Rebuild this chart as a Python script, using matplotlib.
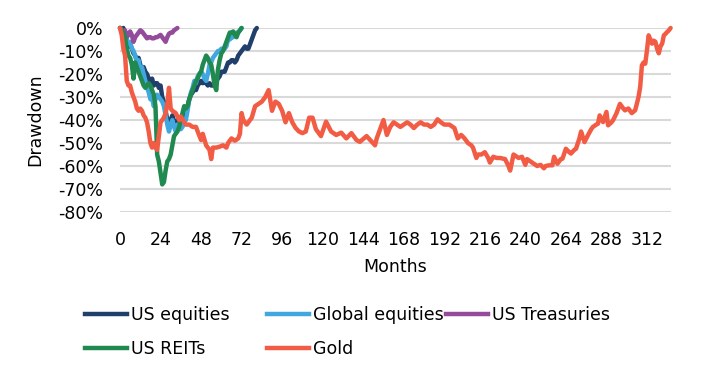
import matplotlib
matplotlib.use("Agg")
import matplotlib.pyplot as plt
from matplotlib.lines import Line2D
from matplotlib.ticker import FuncFormatter

# ---------------- data (drawdown in %, by month since peak) ----------------
us_equities = [0, -1, 0, -3, -6, -8, -7, -9, -11, -12, -14, -13, -16, -18, -17, -19, -20, -22,
               -24, -22, -25, -24, -24, -26, -25, -30, -32, -36, -40, -43, -40, -38, -41, -43,
               -40, -39, -40, -39, -37, -36, -34, -31, -29, -28, -26, -27, -25, -24, -23, -24,
               -23, -24, -25, -24, -25, -25, -24, -23, -22, -21, -19, -19, -19, -17, -15, -15,
               -14, -14, -15, -14, -12, -11, -10, -9, -8, -9, -9, -7, -5, -3, -1, 0]

global_equities = [0, -1, -3, -2, -5, -7, -6, -9, -10, -12, -15, -14, -18, -17, -20, -23, -26,
                   -28, -31, -30, -34, -31, -29, -30, -31, -32, -34, -38, -42, -45, -42, -40,
                   -43, -45, -42, -42, -44, -43, -41, -40, -36, -31, -28, -26, -23, -24, -21,
                   -20, -19, -20, -22, -23, -20, -16, -15, -13, -12, -11, -10, -10, -9, -9, -9,
                   -8, -5, -5, -4, -4, -3, -2, -2, -1, 0]

us_treasuries = [0, -1, -2, -1, -4, -3, -1.5, -3, -6, -4, -3, -2, -1, -1.5, -2.5, -3.5, -4.5,
                 -4, -4, -4.5, -4.5, -4, -4, -3.5, -3, -4, -5, -6, -4, -2.5, -2, -2, -1, -0.5, 0]

us_reits = [0, -1, -2, -4, -9, -12, -13, -16, -22, -15, -17, -19, -21, -23, -25, -26, -25, -24,
            -25, -27, -29, -34, -55, -58, -63, -68, -67, -62, -58, -57, -55, -51, -47, -46, -45,
            -43, -40, -37, -34, -35, -34, -31, -29, -27, -25, -23, -22, -20, -19, -16, -14, -12,
            -13, -15, -16, -20, -25, -27, -18, -14, -11, -10, -8, -6, -4, -2, -2, -1.5, -3, -4,
            -2, -1, 0]

gold_months = [0, 1, 2, 3, 4, 5, 6, 7, 8, 9, 10, 11, 12, 13, 14, 15, 16, 17, 18, 19, 20, 21, 22,
               23, 24, 25, 26, 27, 28, 29, 30, 31, 33, 35, 36, 38, 39, 41, 43, 45, 46, 48, 49, 51,
               53, 54, 55, 57, 59, 61, 63, 64, 66, 68, 70, 71, 72, 73, 75, 77, 78, 80, 82, 84, 86,
               88, 90, 91, 92, 94, 96, 98, 100, 102, 104, 106, 108, 110, 112, 114, 116, 119, 122,
               125, 128, 131, 134, 137, 140, 142, 146, 149, 151, 152, 154, 156, 158, 160, 162,
               164, 166, 168, 170, 172, 174, 176, 178, 180, 182, 184, 186, 188, 190, 192, 195,
               198, 200, 202, 204, 206, 208, 209, 211, 212, 214, 216, 218, 219, 221, 223, 225,
               228, 230, 231, 233, 235, 236, 238, 240, 241, 243, 245, 247, 249, 251, 252, 254,
               256, 257, 259, 261, 262, 264, 266, 267, 269, 270, 272, 273, 275, 277, 279, 280,
               282, 283, 284, 286, 288, 289, 291, 292, 294, 296, 298, 299, 301, 303, 305, 306,
               307, 308, 309, 310, 311, 312, 313, 314, 315, 316, 317, 318, 319, 320, 321, 322,
               323, 324, 325, 326]
gold = [0, -3, -9, -12, -23, -25, -25, -28, -30, -32, -35, -36, -35, -36, -38, -39, -41, -45, -50,
        -52, -50, -52, -53, -47, -41, -40, -39, -37, -33, -26, -35, -36, -37, -40, -38.5, -41, -42,
        -42, -43, -43, -45, -48.7, -46, -51, -53, -57, -52, -52, -51.6, -51, -52, -50, -48, -49,
        -48, -46, -37, -40, -42, -40, -39, -34, -33, -32, -30, -27, -36, -34, -32, -33, -36, -41,
        -37, -41, -43.5, -45, -45.7, -45, -39, -39, -44, -47, -40.7, -45, -46.5, -45.5, -48,
        -45.7, -48.7, -49.5, -47, -49.4, -51, -48, -44, -40, -46.5, -43, -41, -42, -43, -42, -41,
        -42, -43.5, -42, -41, -42, -42, -43, -42, -39.7, -41, -42, -42, -43.5, -48, -46.5, -48,
        -50, -51, -52, -56.5, -55, -55, -54, -56.5, -58.5, -56, -56.5, -56.5, -57, -60, -62, -55,
        -56, -56.5, -56, -59.5, -57, -58, -59, -60, -59.5, -61, -60, -59.7, -59.7, -56, -59, -57,
        -56.8, -52.5, -54, -54.6, -53, -52.5, -48, -45, -49.6, -46.7, -44, -43, -42, -41.6, -38,
        -40.9, -36.5, -42.3, -41, -40, -37, -33, -35, -35.8, -35, -37, -35.8, -33, -30, -25.6,
        -16.2, -15, -15.5, -9.7, -3.2, -5, -6.8, -5.5, -6, -9, -11, -8, -6.8, -3.2, -2.5, -1.7,
        -1, 0]

series_names = ["US equities", "Global equities", "US Treasuries", "US REITs", "Gold"]
series_colors = ["#203F6B", "#41A8DF", "#954B9B", "#20894F", "#F25C45"]
x_ticks = list(range(0, 313, 24))
y_ticks = list(range(-80, 1, 10))

# ---------------- figure ----------------
plt.rcParams['font.family'] = ['DejaVu Sans']
FS = 12.5
fig = plt.figure(figsize=(7.08, 3.82), dpi=100)
W, H = 708, 382
left, right, top, bottom = 120, 670.6, 28, 212
ax = fig.add_axes([left / W, 1 - bottom / H, (right - left) / W, (bottom - top) / H])

data = [
    (list(range(len(us_equities))), us_equities),
    (list(range(len(global_equities))), global_equities),
    (list(range(len(us_treasuries))), us_treasuries),
    (list(range(len(us_reits))), us_reits),
    (gold_months, gold),
]
lw = 3.2
for (xs, ys), name, col in zip(data, series_names, series_colors):
    ax.plot(xs, ys, color=col, lw=lw, label=name, solid_joinstyle='round',
            solid_capstyle='round', zorder=3, clip_on=False)

ax.set_xlim(0, 326)
ax.set_ylim(-80, 0)
ax.set_xticks(x_ticks)
ax.set_yticks(y_ticks)
ax.yaxis.set_major_formatter(FuncFormatter(lambda v, p: f"{int(round(v))}%"))
ax.grid(axis='y', color='#D9D9D9', lw=1.5, zorder=0)
ax.set_axisbelow(True)
for s in ax.spines.values():
    s.set_visible(False)
ax.tick_params(axis='both', length=0, labelsize=FS, colors='black')
ax.tick_params(axis='x', pad=14)
ax.tick_params(axis='y', pad=12)
ax.set_xlabel("Months", fontsize=FS, labelpad=6)
ax.set_ylabel("Drawdown", fontsize=FS, labelpad=10)

# legend entries placed like the reference (5 single-entry legends)
positions = [(85, 315), (267, 315), (446, 315), (85, 349), (267, 349)]
for name, col, (xp, yp) in zip(series_names, series_colors, positions):
    h = Line2D([0], [0], color=col, lw=lw)
    fig.legend([h], [name], loc='center left', bbox_to_anchor=(xp / W, 1 - yp / H),
               frameon=False, fontsize=FS, borderpad=0, borderaxespad=0,
               handlelength=2.4, handletextpad=0.25)

fig.savefig("out.png", dpi=100)
